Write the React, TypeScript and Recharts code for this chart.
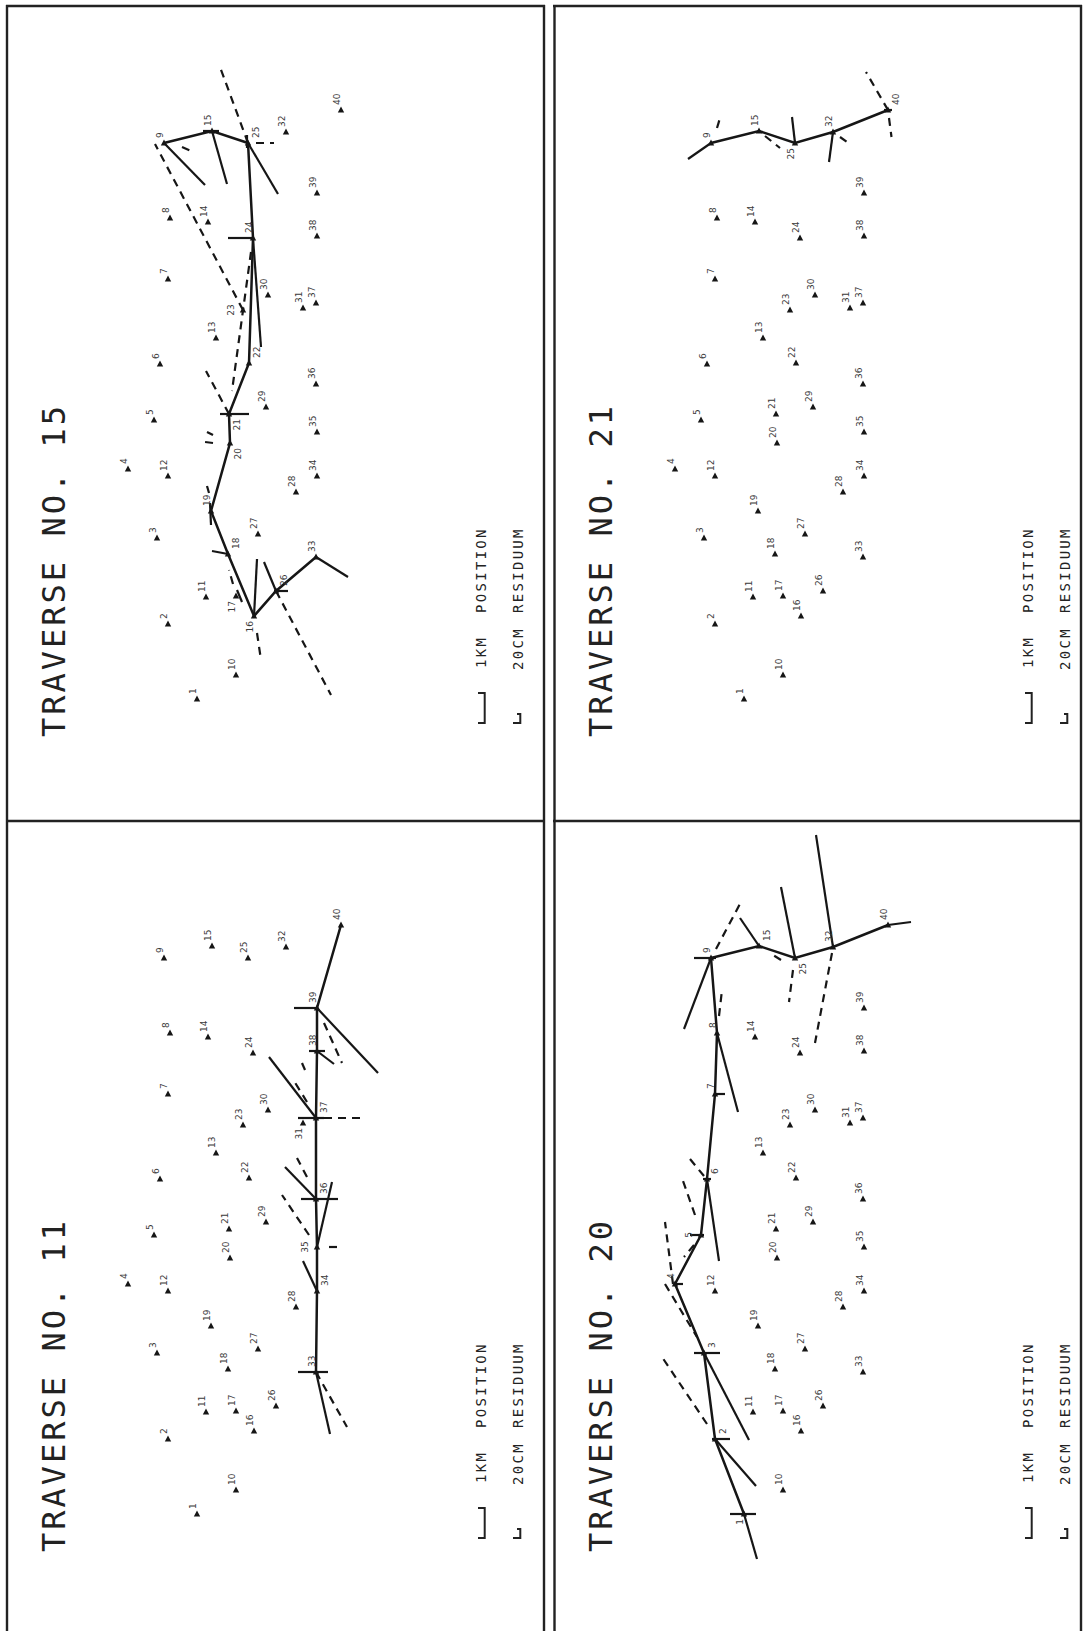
import React from "react";
import { ScatterChart, Scatter, XAxis, YAxis, ReferenceLine } from "recharts";

// station positions on the (rotated) sheet, plot units: x across, y down
const STATIONS: [number, number, number][] = [
  [1, 190, 693], [2, 161, 618], [3, 150, 532], [4, 121, 463], [5, 147, 414],
  [6, 153, 358], [7, 161, 273], [8, 163, 212], [9, 157, 137], [10, 229, 669],
  [11, 199, 591], [12, 161, 470], [13, 209, 332], [14, 201, 216], [15, 205, 125],
  [16, 247, 610], [17, 229, 590], [18, 221, 548], [19, 204, 505], [20, 223, 437],
  [21, 222, 408], [22, 242, 357], [23, 236, 304], [24, 246, 232], [25, 241, 137],
  [26, 269, 585], [27, 251, 528], [28, 289, 486], [29, 259, 401], [30, 261, 289],
  [31, 296, 302], [32, 279, 126], [33, 309, 551], [34, 310, 470], [35, 310, 426],
  [36, 309, 378], [37, 309, 297], [38, 310, 230], [39, 310, 187], [40, 334, 104],
];

// residual vectors: [station, dx, dy] or [station, dx1, dy1, dx2, dy2]
type Res = number[];

// traverse no. 15
const T15_PATH = [9, 15, 25, 24, 22, 21, 20, 19, 18, 16, 26, 33];
const T15_SOLID: Res[] = [
  [9, 41, 42], [15, -9, 0, 7, 0], [15, 15, 53], [25, 30, 51], [25, -1, -8, -1, 5],
  [24, -25, 0], [24, 8, 109], [21, -9, 0, 20, 0], [19, -1, -8, 0, 14], [18, -16, -3],
  [17, 1, -6, 6, 6], [16, 3, -57], [26, -12, -29], [26, -2, 0, 12, 0], [33, 32, 20],
];
const T15_DASH: Res[] = [
  [9, 18, 4, 27, 8], [25, -28, -76], [25, 8, 0, 26, 0], [23, -88, -166],
  [24, -2, 14, -21, 153], [21, -23, -43], [20, -17, 0, -25, -1], [20, -17, -8, -23, -11],
  [19, -2, -18, -4, -25], [17, -3, -12, -7, -26], [16, 3, 17, 7, 44], [26, 55, 104],
];
const T15_LABELS: Record<number, string> = { 16: "sw", 17: "sw", 18: "ne", 20: "s", 21: "s", 22: "ne", 23: "w", 25: "ne", 26: "ne" };

// traverse no. 21
const T21_PATH = [9, 15, 25, 32, 40];
const T21_SOLID: Res[] = [[9, -23, 16], [25, -3, -26], [32, -4, 30], [40, -4, 0, 4, 0]];
const T21_DASH: Res[] = [[9, 6, -15, 9, -25], [15, 6, 5, 21, 17], [32, 7, 5, 14, 10], [40, -22, -38], [40, 1, 8, 3.5, 27]];
const T21_LABELS: Record<number, string> = { 25: "sw", 40: "ne" };

// traverse no. 11
const T11_PATH = [40, 39, 38, 37, 36, 35, 34, 33];
const T11_SOLID: Res[] = [
  [39, -23, 0], [39, 61, 65], [38, -8, 0, 8, 0], [38, 17, 13], [37, -18, 0, 8, 0],
  [37, -47, -61], [36, -15, 0, 14, 0], [36, -31, -32], [35, 15, -65], [34, -14, -30],
  [33, -18, 0, 12, 0], [33, 14, 62],
];
const T11_DASH: Res[] = [
  [39, 7, 15, 25, 55], [38, -12, 19, -15, 12], [37, -9, -16, -22, -37], [37, 8, 0, 46, 0],
  [36, 14, 0, 28, 0], [36, -9, -22, -19, -41], [35, 12, 0, 26, 0], [35, -8, -12, -35, -52],
  [33, 31, 55],
];
const T11_LABELS: Record<number, string> = { 31: "sw", 34: "ne", 35: "w", 36: "ne", 37: "ne" };

// traverse no. 20
const T20_PATH = [40, 32, 25, 15, 9, 8, 7, 6, 5, 4, 3, 2, 1];
const T20_SOLID: Res[] = [
  [40, 23, -3], [32, -17, -112], [25, -14, -71], [15, -19, -28], [9, -17, 0, 5, 0],
  [9, -27, 71], [8, 21, 79], [7, 0, 0, 10, 0], [6, 12, 82], [6, -4, 0, 4, 0],
  [5, -11, 0, 3, 0], [4, 0, 0, 8, 0], [3, -10, 0, 16, 0], [3, 45, 87], [2, -3, 0, 15, 0],
  [2, 41, 47], [1, -14, 0, 12, 0], [1, 13, 45],
];
const T20_DASH: Res[] = [
  [32, -1, 6, -18, 96], [25, -2, 12, -6, 44], [25, -14, 2, -22, -3], [9, 5, -9, 30, -56],
  [8, 2, -17, 5, -43], [6, -3, -3, -17, -20], [5, -6, -20, -19, -57], [5, -7, 10, -17, 22],
  [4, -2, 0, -10, -62], [4, -10, 0, 22, 53], [2, -8, -15, -53, -82],
];
const T20_LABELS: Record<number, string> = { 1: "sw", 2: "ne", 3: "ne", 5: "w", 6: "ne", 15: "ne", 25: "s" };

const PANELS = [
  { title: "TRAVERSE NO. 15", left: 7, top: 6, path: T15_PATH, solid: T15_SOLID, dash: T15_DASH, labels: T15_LABELS },
  { title: "TRAVERSE NO. 21", left: 554, top: 6, path: T21_PATH, solid: T21_SOLID, dash: T21_DASH, labels: T21_LABELS },
  { title: "TRAVERSE NO. 11", left: 7, top: 821, path: T11_PATH, solid: T11_SOLID, dash: T11_DASH, labels: T11_LABELS },
  { title: "TRAVERSE NO. 20", left: 554, top: 821, path: T20_PATH, solid: T20_SOLID, dash: T20_DASH, labels: T20_LABELS },
];

const W = 530;
const H = 810;
const INK = "#161616";
const MONO = "'DejaVu Sans Mono', monospace";

// text rotated to read bottom-to-top; cx is the visual centre across the glyphs
function vText(cx: number, y: number, cap: number, anchor: string, props: any, s: string, key?: string) {
  return (
    <text key={key} transform={`translate(${cx + cap / 2},${y}) rotate(-90)`} textAnchor={anchor} {...props}>
      {s}
    </text>
  );
}

function Station(props: any) {
  const { cx, cy, payload } = props;
  const side = payload.side;
  let x = cx - 4;
  let y = cy - 5;
  let anchor = "start";
  if (side === "ne") x = cx + 8;
  else if (side === "s") { x = cx + 8; y = cy + 5; anchor = "end"; }
  else if (side === "sw") { y = cy + 5; anchor = "end"; }
  else if (side === "w") { x = cx - 12; y = cy; anchor = "middle"; }
  return (
    <g>
      <polygon points={`${cx},${cy - 3.5} ${cx - 3.2},${cy + 2.6} ${cx + 3.2},${cy + 2.6}`} fill={INK} />
      {vText(x, y, 6.6, anchor, { fontSize: 9, fontFamily: "'DejaVu Sans', sans-serif", fill: "#3a3a3a" }, String(payload.id))}
    </g>
  );
}

function Panel({ p }: { p: (typeof PANELS)[number] }) {
  const pts = STATIONS.map(([id, x, y]) => ({ id, x, y, side: p.labels[id] || "n" }));
  const byId = new Map(pts.map((s) => [s.id, s]));
  const pathData = p.path.map((id) => byId.get(id));
  const seg = (r: Res) => {
    const s = byId.get(r[0])!;
    if (r.length === 3) return [{ x: s.x, y: s.y }, { x: s.x + r[1], y: s.y + r[2] }];
    return [{ x: s.x + r[1], y: s.y + r[2] }, { x: s.x + r[3], y: s.y + r[4] }];
  };
  return (
    <div style={{ position: "absolute", left: p.left, top: p.top }}>
      <ScatterChart width={W} height={H} margin={{ top: 0, right: 0, bottom: 0, left: 0 }}>
        <XAxis type="number" dataKey="x" domain={[0, W]} allowDataOverflow hide />
        <YAxis type="number" dataKey="y" domain={[0, H]} allowDataOverflow reversed hide />
        {p.solid.map((r, i) => (
          <ReferenceLine key={"s" + i} segment={seg(r)} stroke={INK} strokeWidth={2.2} ifOverflow="visible" />
        ))}
        {p.dash.map((r, i) => (
          <ReferenceLine key={"d" + i} segment={seg(r)} stroke={INK} strokeWidth={2.2} strokeDasharray="8 6" ifOverflow="visible" />
        ))}
        <Scatter data={pathData} fill={INK} line={{ stroke: INK, strokeWidth: 2.5 }} shape={() => <g />} isAnimationActive={false} />
        <Scatter data={pts} fill={INK} shape={Station} isAnimationActive={false} />
      </ScatterChart>
    </div>
  );
}

function Frame() {
  const legend = { fontSize: 14, fontFamily: MONO, letterSpacing: 2.3, fill: "#222" };
  return (
    <svg width={1083} height={1631} style={{ position: "absolute", left: 0, top: 0 }}>
      <g stroke="#222" strokeWidth={2.4} fill="none">
        <line x1={7} y1={5} x2={7} y2={1631} />
        <line x1={544} y1={5} x2={544} y2={1631} />
        <line x1={554.5} y1={5} x2={554.5} y2={1631} />
        <line x1={1081} y1={5} x2={1081} y2={1631} />
        <line x1={6} y1={6} x2={545} y2={6} />
        <line x1={553} y1={6} x2={1082} y2={6} />
        <line x1={6} y1={821} x2={545} y2={821} />
        <line x1={553} y1={821} x2={1082} y2={821} />
      </g>
      {PANELS.map((p) => (
        <g key={p.title} transform={`translate(${p.left},${p.top})`}>
          {vText(46, 731, 23.4, "start", { fontSize: 32, fontFamily: MONO, letterSpacing: 3, fill: "#222" }, p.title)}
          {vText(474, 662, 10.2, "start", legend, "1KM")}
          {vText(474, 607, 10.2, "start", legend, "POSITION")}
          {vText(511, 664, 10.2, "start", legend, "20CM")}
          {vText(511, 607, 10.2, "start", legend, "RESIDUUM")}
          <path d="M471,687 L477.7,687 L477.7,717 L471,717" stroke="#222" strokeWidth={2} fill="none" />
          <path d="M510,708 L513.3,708 L513.3,717 L506,717" stroke="#222" strokeWidth={2} fill="none" />
        </g>
      ))}
    </svg>
  );
}

export default function App() {
  return (
    <div style={{ position: "absolute", left: 0, top: 0, width: 1083, height: 1631, background: "#fff", overflow: "hidden" }}>
      <Frame />
      {PANELS.map((p) => (
        <Panel key={p.title} p={p} />
      ))}
    </div>
  );
}
